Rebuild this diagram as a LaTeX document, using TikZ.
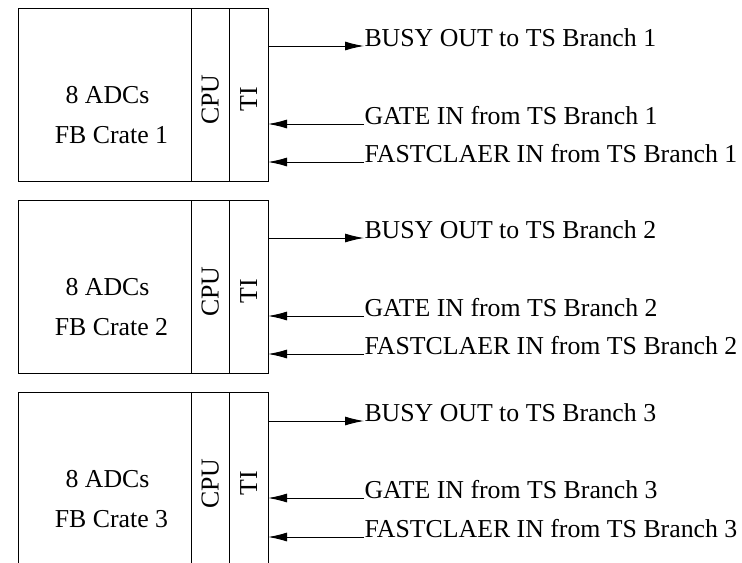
\documentclass[tikz,border=0pt]{standalone}
\usepackage{fontspec}
\setmainfont{Liberation Serif}
\usetikzlibrary{arrows.meta, positioning}

\begin{document}
\begin{tikzpicture}[x=0.5pt, y=-0.5pt, line width=0.5pt,
    font=\fontsize{12.9}{15}\selectfont,
    crate/.style={draw, inner sep=0pt, outer sep=0pt, minimum height=86.5pt},
    slot/.style={crate, minimum width=19.25pt},
    sig/.style={-{Latex[length=9.5pt, width=4.5pt]}},
    lbl/.style={anchor=base west, inner sep=0pt}]
    \useasboundingbox (0,0) rectangle (742,562);
    \clip (0,0) rectangle (742,562);
    \foreach \i/\ytop/\busy/\gate/\fast in {1/8/38/116/154, 2/200/38/116/154, 3/392/29/106/145}{
        % Crate with its CPU and TI slots
        \node (adc\i) [crate, minimum width=86.5pt, anchor=north west] at (18,\ytop) {};
        \node (cpu\i) [slot, right=0pt of adc\i] {};
        \node (ti\i) [slot, right=0pt of cpu\i] {};
        \node (cpulbl\i) [rotate=90, inner sep=0pt] at ([yshift=-2.5pt]cpu\i.center) {CPU};
        \node (tilbl\i) [rotate=90, inner sep=0pt] at ([yshift=-2.5pt]ti\i.center) {TI};
        \node (adcs\i) [anchor=base, inner sep=0pt] at (107.5,\ytop+95) {8 ADCs};
        \node (fb\i) [anchor=base, inner sep=0pt] at (111.5,\ytop+135) {FB Crate \i};

        % Signals to and from the TS branch
        \node (busy\i) [lbl] at (364,\ytop+\busy) {BUSY OUT to TS Branch \i};
        \node (gate\i) [lbl] at (364,\ytop+\gate) {GATE IN from TS Branch \i};
        \node (fast\i) [lbl] at (364,\ytop+\fast) {FASTCLAER IN from TS Branch \i};
        \draw[sig] (ti\i.east |- busy\i.base west) -- (busy\i.base west);
        \draw[sig] (gate\i.base west) -- (ti\i.east |- gate\i.base west);
        \draw[sig] (fast\i.base west) -- (ti\i.east |- fast\i.base west);
    }
\end{tikzpicture}
\end{document}
